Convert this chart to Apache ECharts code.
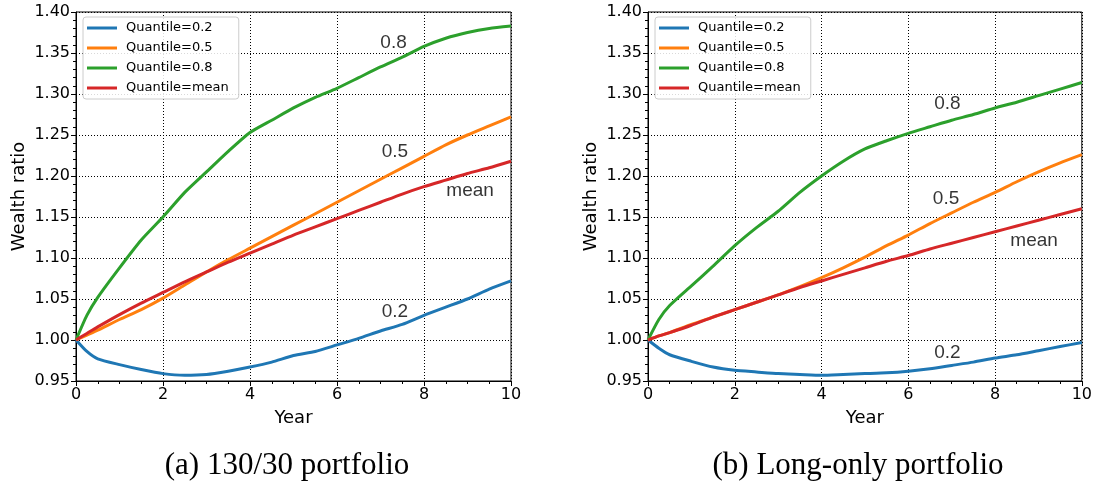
<!DOCTYPE html>
<html>
<head>
<meta charset="utf-8">
<script src="https://cdn.jsdelivr.net/npm/echarts@6/dist/echarts.min.js"></script>
<style>html,body{margin:0;padding:0;background:#fff;}#c{width:1095px;height:484px;}</style>
</head>
<body>
<div id="c"></div>
<script>
// ---- data ----
const years = [0, 0.25, 0.5, 1, 1.5, 2, 2.5, 3, 3.5, 4, 4.5, 5, 5.5, 6, 6.5, 7, 7.5, 8, 8.5, 9, 9.5, 10];
const seriesNames = ['Quantile=0.2', 'Quantile=0.5', 'Quantile=0.8', 'Quantile=mean'];
const captions = ['(a) 130/30 portfolio', '(b) Long-only portfolio'];
const yTicks = [0.95, 1.00, 1.05, 1.10, 1.15, 1.20, 1.25, 1.30, 1.35, 1.40];
const xTicks = [0, 2, 4, 6, 8, 10];

// panel (a) 130/30
const q2A   = [1.000, 0.986, 0.977, 0.970, 0.964, 0.959, 0.957, 0.958, 0.962, 0.967, 0.973, 0.981, 0.986, 0.994, 1.002, 1.011, 1.019, 1.030, 1.040, 1.050, 1.062, 1.072];
const q5A   = [1.000, 1.006, 1.012, 1.025, 1.037, 1.051, 1.067, 1.083, 1.098, 1.112, 1.126, 1.140, 1.154, 1.168, 1.182, 1.196, 1.210, 1.224, 1.238, 1.250, 1.261, 1.272];
const q8A   = [1.000, 1.030, 1.052, 1.088, 1.122, 1.150, 1.180, 1.205, 1.230, 1.253, 1.268, 1.283, 1.296, 1.307, 1.320, 1.333, 1.345, 1.358, 1.368, 1.375, 1.380, 1.383];
const meanA = [1.000, 1.008, 1.016, 1.031, 1.045, 1.058, 1.071, 1.083, 1.095, 1.106, 1.117, 1.128, 1.138, 1.148, 1.158, 1.168, 1.178, 1.187, 1.195, 1.203, 1.210, 1.218];
// panel (b) long-only
const q2B   = [1.000, 0.990, 0.982, 0.974, 0.967, 0.963, 0.961, 0.959, 0.958, 0.957, 0.958, 0.959, 0.960, 0.962, 0.965, 0.969, 0.973, 0.978, 0.982, 0.987, 0.992, 0.997];
const q5B   = [1.000, 1.005, 1.009, 1.019, 1.028, 1.037, 1.046, 1.055, 1.065, 1.076, 1.088, 1.101, 1.115, 1.128, 1.142, 1.155, 1.168, 1.180, 1.193, 1.205, 1.216, 1.226];
const q8B   = [1.000, 1.025, 1.042, 1.066, 1.090, 1.115, 1.137, 1.157, 1.180, 1.200, 1.218, 1.233, 1.243, 1.252, 1.260, 1.268, 1.275, 1.283, 1.290, 1.298, 1.306, 1.314];
const meanB = [1.000, 1.005, 1.009, 1.018, 1.028, 1.037, 1.046, 1.055, 1.064, 1.072, 1.080, 1.088, 1.096, 1.103, 1.111, 1.118, 1.125, 1.132, 1.139, 1.146, 1.153, 1.160];

// curve annotations [year, value, text]
const labelsA = [[7.3, 1.362, '0.8'], [7.33, 1.229, '0.5'], [9.06, 1.182, 'mean'], [7.33, 1.034, '0.2']];
const labelsB = [[6.9, 1.288, '0.8'], [6.87, 1.172, '0.5'], [8.9, 1.121, 'mean'], [6.9, 0.984, '0.2']];

const colors = ['#1f77b4', '#ff7f0e', '#2ca02c', '#d62728'];
const panels = [[q2A, q5A, q8A, meanA], [q2B, q5B, q8B, meanB]];
const panelLabels = [labelsA, labelsB];

// ---- chart ----
const sans = 'DejaVu Sans';
const grids = [
  {left: 76, top: 12, width: 435, height: 369},
  {left: 648, top: 12, width: 435, height: 369}
];
function xAxisCfg(i) {
  return {
    type: 'value', gridIndex: i, min: xTicks[0], max: xTicks[xTicks.length - 1], interval: 2,
    name: 'Year', nameLocation: 'middle', nameGap: 28,
    nameTextStyle: {fontFamily: sans, fontSize: 18, color: '#000'},
    axisLine: {lineStyle: {color: '#000', width: 1}},
    axisTick: {show: true, length: 5, lineStyle: {color: '#000'}},
    minorTick: {show: true, splitNumber: 4, length: 3, lineStyle: {color: '#000'}},
    axisLabel: {fontFamily: sans, fontSize: 16, color: '#000', margin: 6},
    splitLine: {show: true, lineStyle: {color: '#000', type: [1, 2], width: 1}}
  };
}
function yAxisCfg(i) {
  return {
    type: 'value', gridIndex: i, min: yTicks[0], max: yTicks[yTicks.length - 1], interval: 0.05,
    name: 'Wealth ratio', nameLocation: 'middle', nameGap: 48,
    nameTextStyle: {fontFamily: sans, fontSize: 18, color: '#000'},
    axisLine: {lineStyle: {color: '#000', width: 1}},
    axisTick: {show: true, length: 5, lineStyle: {color: '#000'}},
    minorTick: {show: true, splitNumber: 5, length: 3, lineStyle: {color: '#000'}},
    axisLabel: {fontFamily: sans, fontSize: 16, color: '#000', margin: 6, formatter: v => v.toFixed(2)},
    splitLine: {show: true, lineStyle: {color: '#000', type: [1, 2], width: 1}}
  };
}
const series = [];
panels.forEach((p, gi) => {
  p.forEach((vals, si) => {
    series.push({
      name: seriesNames[si], type: 'line', xAxisIndex: gi, yAxisIndex: gi,
      data: years.map((y, k) => [y, vals[k]]),
      showSymbol: false, smooth: 0.2, color: colors[si],
      lineStyle: {width: 3, color: colors[si]}, z: 3 + si
    });
  });
  series.push({
    type: 'scatter', xAxisIndex: gi, yAxisIndex: gi, symbolSize: 0, silent: true,
    data: panelLabels[gi].map(d => ({value: [d[0], d[1]], label: {formatter: d[2]}})),
    label: {show: true, position: 'inside', fontFamily: 'Liberation Sans', fontSize: 19, color: '#000',
            textBorderWidth: 0, textBorderColor: 'transparent'},
    z: 10
  });
});
function legendCfg(left) {
  return {
    left: left, top: 17, orient: 'vertical', data: seriesNames,
    icon: 'rect', itemWidth: 30, itemHeight: 3, itemGap: 6,
    backgroundColor: 'rgba(255,255,255,0.85)', borderColor: '#cccccc', borderWidth: 1, borderRadius: 3,
    padding: [4, 10, 4, 4],
    textStyle: {fontFamily: sans, fontSize: 13, color: '#000', lineHeight: 14, padding: [0, 0, 0, 4]},
    selectedMode: false
  };
}
const chart = echarts.init(document.getElementById('c'), null, {renderer: 'canvas'});
chart.setOption({
  animation: false,
  backgroundColor: '#fff',
  grid: grids.map(g => Object.assign({show: true, borderColor: '#000', borderWidth: 1, backgroundColor: 'transparent'}, g)),
  xAxis: [xAxisCfg(0), xAxisCfg(1)],
  yAxis: [yAxisCfg(0), yAxisCfg(1)],
  legend: [legendCfg(83), legendCfg(655)],
  series: series,
  graphic: [
    {type: 'text', x: 287, y: 466, style: {text: captions[0], font: '31px "Liberation Serif"', fill: '#000', textAlign: 'center', textVerticalAlign: 'middle'}},
    {type: 'text', x: 858, y: 466, style: {text: captions[1], font: '31px "Liberation Serif"', fill: '#000', textAlign: 'center', textVerticalAlign: 'middle'}}
  ]
});
</script>
</body>
</html>
